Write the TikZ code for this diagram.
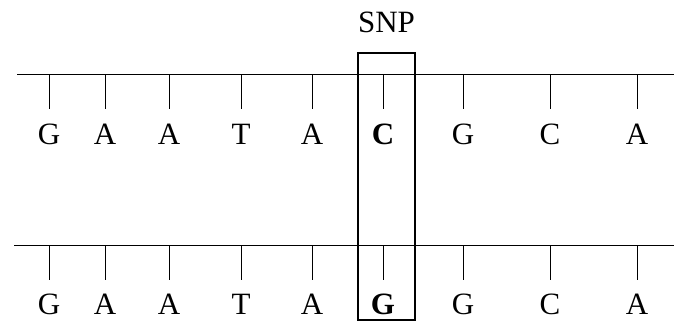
\documentclass[tikz,border=0pt]{standalone}
\usepackage{fontspec}
\setmainfont{Liberation Serif}
\usetikzlibrary{positioning}

\tikzset{
	strand/.style={line width=0.9pt},
	tick/.style={line width=1pt},
	base/.style={font=\fontsize{31}{36}\selectfont, inner sep=0pt},
	snpbox/.style={draw, line width=1.2pt, inner sep=0pt, minimum width=57pt, minimum height=267pt},
}

\begin{document}
\begin{tikzpicture}[x=1pt,y=1pt]
	\useasboundingbox (0,0) rectangle (674,322);
	% the two strands
	\coordinate (s1l) at (17,248);  \coordinate (s1r) at (674,248);
	\coordinate (s2l) at (14,77);   \coordinate (s2r) at (674,77);
	\draw[strand] (s1l) -- (s1r);
	\draw[strand] (s2l) -- (s2r);
	% bases hanging off each strand
	\foreach \x/\b [count=\i] in {49/G,105/A,169/A,241/T,312/A,383/\textbf{C},463/G,550/C,637/A}
	{
		\coordinate (u\i) at (\x,248);
		\node[base] (t\i) at (\x,188) {\b};
		\draw[tick] (u\i) -- ++(0,-35);
	}
	\foreach \x/\b [count=\i] in {49/G,105/A,169/A,241/T,312/A,383/\textbf{G},463/G,550/C,637/A}
	{
		\coordinate (l\i) at (\x,77);
		\node[base] (b\i) at (\x,18) {\b};
		\draw[tick] (l\i) -- ++(0,-35);
	}
	% the polymorphic position
	\node[snpbox] (snp) at (386.5,135.5) {};
	\node[base, above=19pt of snp] (snplabel) {SNP};
\end{tikzpicture}
\end{document}
